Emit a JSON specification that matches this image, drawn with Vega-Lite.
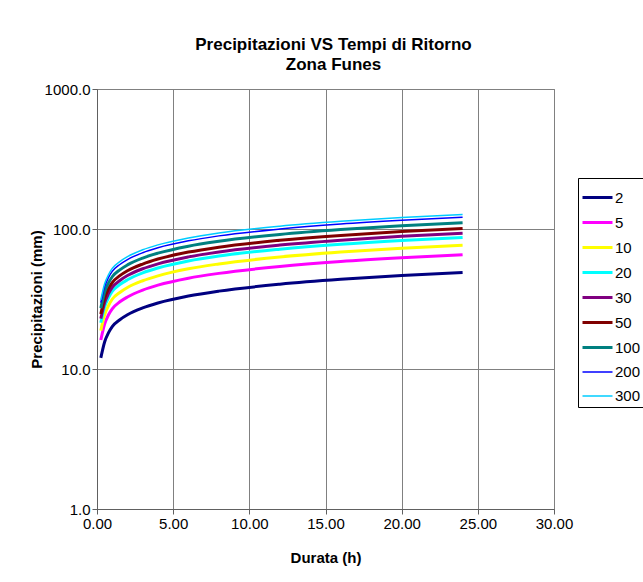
{
  "$schema": "https://vega.github.io/schema/vega-lite/v6.json",
  "autosize": {"type": "none"},
  "width": 457,
  "height": 420,
  "padding": {"left": 97, "top": 89, "right": 89, "bottom": 73},
  "background": "#ffffff",
  "title": {
    "text": ["Precipitazioni VS Tempi di Ritorno", "Zona Funes"],
    "font": "Liberation Sans",
    "fontSize": 17,
    "fontWeight": "bold",
    "lineHeight": 20,
    "color": "#000000",
    "anchor": "middle",
    "dx": 8,
    "offset": 8
  },
  "data": {
    "values": [
      {"t": 0.25, "2": 12.0, "5": 16.1, "10": 18.8, "20": 21.4, "30": 22.9, "50": 24.7, "100": 27.2, "200": 29.8, "300": 31.2},
      {"t": 0.5, "2": 15.6, "5": 20.9, "10": 24.4, "20": 27.8, "30": 29.7, "50": 32.1, "100": 35.4, "200": 38.7, "300": 40.6},
      {"t": 0.75, "2": 18.1, "5": 24.3, "10": 28.3, "20": 32.2, "30": 34.5, "50": 37.3, "100": 41.1, "200": 44.9, "300": 47.1},
      {"t": 1, "2": 20.1, "5": 26.9, "10": 31.5, "20": 35.8, "30": 38.3, "50": 41.4, "100": 45.6, "200": 49.8, "300": 52.3},
      {"t": 1.5, "2": 22.5, "5": 30.2, "10": 35.2, "20": 40.1, "30": 42.9, "50": 46.4, "100": 51.1, "200": 55.8, "300": 58.5},
      {"t": 2, "2": 24.4, "5": 32.7, "10": 38.2, "20": 43.4, "30": 46.5, "50": 50.3, "100": 55.4, "200": 60.5, "300": 63.4},
      {"t": 3, "2": 27.3, "5": 36.6, "10": 42.7, "20": 48.6, "30": 52.0, "50": 56.2, "100": 62.0, "200": 67.7, "300": 71.0},
      {"t": 4, "2": 29.6, "5": 39.7, "10": 46.3, "20": 52.7, "30": 56.4, "50": 61.0, "100": 67.2, "200": 73.4, "300": 77.0},
      {"t": 6, "2": 33.2, "5": 44.5, "10": 52.0, "20": 59.1, "30": 63.2, "50": 68.4, "100": 75.4, "200": 82.3, "300": 86.3},
      {"t": 8, "2": 36.0, "5": 48.2, "10": 56.3, "20": 64.1, "30": 68.6, "50": 74.2, "100": 81.7, "200": 89.3, "300": 93.6},
      {"t": 12, "2": 40.3, "5": 54.0, "10": 63.1, "20": 71.7, "30": 76.8, "50": 83.0, "100": 91.5, "200": 99.9, "300": 104.8},
      {"t": 16, "2": 43.7, "5": 58.6, "10": 68.4, "20": 77.8, "30": 83.2, "50": 90.0, "100": 99.2, "200": 108.4, "300": 113.6},
      {"t": 20, "2": 46.5, "5": 62.3, "10": 72.8, "20": 82.8, "30": 88.6, "50": 95.8, "100": 105.6, "200": 115.3, "300": 120.9},
      {"t": 24, "2": 48.9, "5": 65.5, "10": 76.5, "20": 87.0, "30": 93.2, "50": 100.7, "100": 111.0, "200": 121.3, "300": 127.1}
    ]
  },
  "transform": [
    {"fold": ["2", "5", "10", "20", "30", "50", "100", "200", "300"], "as": ["Tr", "h"]}
  ],
  "mark": {"type": "line", "interpolate": "monotone"},
  "encoding": {
    "x": {
      "field": "t",
      "type": "quantitative",
      "scale": {"domain": [0, 30], "nice": false, "zero": true},
      "axis": {
        "title": "Durata  (h)",
        "values": [0, 5, 10, 15, 20, 25, 30],
        "format": ".2f",
        "titlePadding": 19
      }
    },
    "y": {
      "field": "h",
      "type": "quantitative",
      "scale": {"type": "log", "domain": [1, 1000], "nice": false},
      "axis": {
        "title": "Precipitazioni  (mm)",
        "values": [1, 10, 100, 1000],
        "format": ".1f",
        "titlePadding": 0
      }
    },
    "color": {
      "field": "Tr",
      "type": "ordinal",
      "scale": {
        "domain": ["2", "5", "10", "20", "30", "50", "100", "200", "300"],
        "range": ["#000080", "#FF00FF", "#FFFF00", "#00FFFF", "#800080", "#800000", "#008080", "#0000FF", "#00CCFF"]
      },
      "legend": {
        "title": null,
        "orient": "none",
        "legendX": 481,
        "legendY": 89,
        "symbolType": "stroke",
        "symbolSize": 900,
        "labelFont": "Liberation Sans",
        "labelFontSize": 15,
        "labelColor": "#000000",
        "labelOffset": 1,
        "strokeColor": "#000000",
        "padding": 3,
        "rowPadding": 0
      }
    },
    "strokeWidth": {
      "field": "Tr",
      "type": "ordinal",
      "scale": {
        "type": "ordinal",
        "domain": ["2", "5", "10", "20", "30", "50", "100", "200", "300"],
        "range": [3, 3, 3, 3, 3, 3, 3, 1.5, 1.5]
      },
      "legend": null
    }
  },
  "config": {
    "font": "Liberation Sans",
    "view": {"stroke": "#808080", "strokeWidth": 1},
    "axis": {
      "labelFont": "Liberation Sans",
      "labelFontSize": 15,
      "labelColor": "#000000",
      "labelFlush": false,
      "labelOverlap": false,
      "titleFont": "Liberation Sans",
      "titleFontSize": 15,
      "titleFontWeight": "bold",
      "titleColor": "#000000",
      "grid": true,
      "gridColor": "#808080",
      "gridOpacity": 1,
      "gridWidth": 1,
      "domainColor": "#606060",
      "tickColor": "#606060",
      "tickSize": 5,
      "labelPadding": 2
    }
  }
}
